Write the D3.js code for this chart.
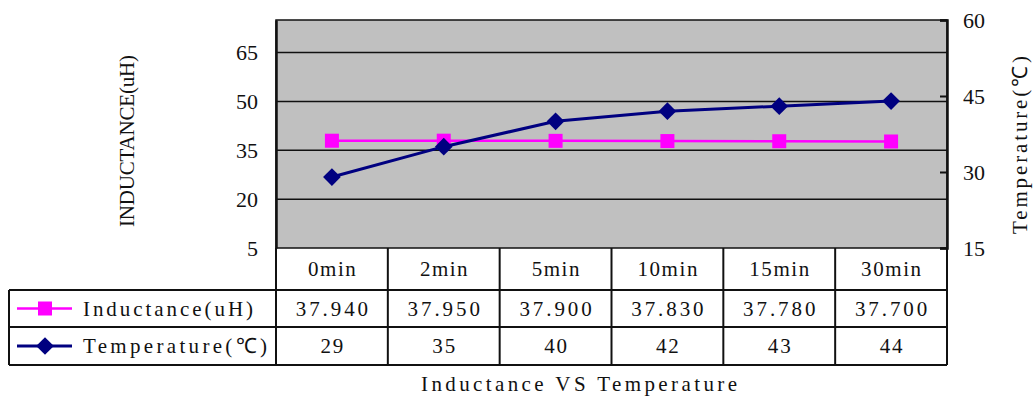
<!DOCTYPE html>
<html>
<head>
<meta charset="utf-8">
<script src="https://cdn.jsdelivr.net/npm/d3@7"></script>
<style>
  body { margin: 0; background: white; }
</style>
</head>
<body>
<div id="container"></div>
<script>
/* CONSTANTS AND GLOBALS */
const width = 1034,
  height = 400;

const plot = { left: 276, right: 947, top: 20, bottom: 248 };
const rows = [248, 290, 327, 365];   // table row edges
const tableLeft = 9;
const charW = 12.4;                  // half-width char cell, like a CJK font

/* DATA */
const categories = ["0min", "2min", "5min", "10min", "15min", "30min"];
const inductance = [37.94, 37.95, 37.90, 37.83, 37.78, 37.70];
const temperature = [29, 35, 40, 42, 43, 44];
const leftTicks = [5, 20, 35, 50, 65];
const rightTicks = [15, 30, 45, 60];
const seriesNames = ["Inductance(uH)", "Temperature(℃)"];

const serif = "'Liberation Serif', 'Times New Roman', serif";

// monospace-looking serif text: stretch spacing to a fixed cell width
function cellWidth(s) {
  let w = 0;
  for (const ch of s) w += ch.charCodeAt(0) > 255 ? charW * 2 : charW;
  return w - 2;
}

const svg = d3.select("#container")
  .append("svg")
  .attr("width", width)
  .attr("height", height)
  .style("background-color", "white");

/* SCALES */
const xScale = d3.scaleBand()
  .domain(categories)
  .range([plot.left, plot.right]);

const yLeft = d3.scaleLinear()
  .domain([5, 75])
  .range([plot.bottom, plot.top]);

const yRight = d3.scaleLinear()
  .domain([15, 60])
  .range([plot.bottom, plot.top]);

/* PLOT BACKGROUND */
svg.append("rect")
  .attr("x", plot.left)
  .attr("y", plot.top)
  .attr("width", plot.right - plot.left)
  .attr("height", plot.bottom - plot.top)
  .attr("fill", "#c0c0c0")
  .attr("stroke", "#111")
  .attr("stroke-width", 1.5);

// gridlines
svg.selectAll(".grid")
  .data(leftTicks.slice(1))
  .join("line")
  .attr("x1", plot.left)
  .attr("x2", plot.right)
  .attr("y1", d => yLeft(d))
  .attr("y2", d => yLeft(d))
  .attr("stroke", "#111")
  .attr("stroke-width", 1.5);

/* AXES */
const leftAxis = d3.axisLeft(yLeft)
  .tickValues(leftTicks)
  .tickSize(0)
  .tickPadding(18);

svg.append("g")
  .attr("transform", `translate(${plot.left}, 0)`)
  .call(leftAxis)
  .call(g => g.select(".domain").attr("stroke", "#111").attr("stroke-width", 2.5))
  .call(g => g.selectAll("text")
    .attr("font-family", serif)
    .attr("font-size", 22)
    .attr("fill", "#111"));

const rightAxis = d3.axisRight(yRight)
  .tickValues(rightTicks)
  .tickSize(-7)
  .tickPadding(16);

svg.append("g")
  .attr("transform", `translate(${plot.right}, 0)`)
  .call(rightAxis)
  .call(g => g.select(".domain").attr("stroke", "#111").attr("stroke-width", 2.5))
  .call(g => g.selectAll(".tick line").attr("stroke", "#111").attr("stroke-width", 2))
  .call(g => g.selectAll("text")
    .attr("font-family", serif)
    .attr("font-size", 22)
    .attr("fill", "#111"));

// axis titles
svg.append("text")
  .attr("transform", `translate(134, 141) rotate(-90)`)
  .attr("text-anchor", "middle")
  .attr("font-family", serif)
  .attr("font-size", 21)
  .attr("fill", "#111")
  .attr("textLength", 172)
  .attr("lengthAdjust", "spacing")
  .text("INDUCTANCE(uH)");

svg.append("text")
  .attr("transform", `translate(1027, 145) rotate(-90)`)
  .attr("text-anchor", "middle")
  .attr("font-family", serif)
  .attr("font-size", 21)
  .attr("fill", "#111")
  .attr("textLength", 178)
  .attr("lengthAdjust", "spacing")
  .text("Temperature(℃)");

/* LINES */
const cx = (d, i) => xScale(categories[i]) + xScale.bandwidth() / 2;

const lineL = d3.line()
  .x(cx)
  .y(d => yLeft(d));

const lineR = d3.line()
  .x(cx)
  .y(d => yRight(d));

svg.append("path")
  .datum(inductance)
  .attr("d", lineL)
  .attr("fill", "none")
  .attr("stroke", "#ff00ff")
  .attr("stroke-width", 2.5);

svg.selectAll(".sq")
  .data(inductance)
  .join("rect")
  .attr("class", "sq")
  .attr("x", (d, i) => cx(d, i) - 7)
  .attr("y", d => yLeft(d) - 7)
  .attr("width", 14)
  .attr("height", 14)
  .attr("fill", "#ff00ff");

svg.append("path")
  .datum(temperature)
  .attr("d", lineR)
  .attr("fill", "none")
  .attr("stroke", "#000080")
  .attr("stroke-width", 3);

const diamond = d3.symbol().type(d3.symbolDiamond2).size(200);

svg.selectAll(".dia")
  .data(temperature)
  .join("path")
  .attr("class", "dia")
  .attr("transform", (d, i) => `translate(${cx(d, i)}, ${yRight(d)})`)
  .attr("d", diamond)
  .attr("fill", "#000080");

/* DATA TABLE */
const table = svg.append("g");

[1, 2, 3].forEach(r => {
  table.append("line")
    .attr("x1", tableLeft).attr("x2", plot.right)
    .attr("y1", rows[r]).attr("y2", rows[r]);
});
table.append("line")
  .attr("x1", tableLeft).attr("x2", tableLeft)
  .attr("y1", rows[1]).attr("y2", rows[3]);

// vertical lines between categories
table.selectAll(".vline")
  .data(categories.concat(["end"]))
  .join("line")
  .attr("x1", (d, i) => i < categories.length ? xScale(d) : plot.right)
  .attr("x2", (d, i) => i < categories.length ? xScale(d) : plot.right)
  .attr("y1", rows[0])
  .attr("y2", rows[3]);

table.selectAll("line")
  .attr("stroke", "#111")
  .attr("stroke-width", 2);

function cellText(sel, y) {
  sel.attr("x", cx)
    .attr("y", y)
    .attr("text-anchor", "middle")
    .attr("font-family", serif)
    .attr("font-size", 21)
    .attr("fill", "#111")
    .attr("lengthAdjust", "spacing");
}

table.selectAll(".cat")
  .data(categories)
  .join("text")
  .call(cellText, (rows[0] + rows[1]) / 2 + 7)
  .attr("textLength", d => cellWidth(d))
  .text(d => d);

table.selectAll(".ind")
  .data(inductance)
  .join("text")
  .call(cellText, (rows[1] + rows[2]) / 2 + 7)
  .attr("textLength", d => cellWidth(d3.format(".3f")(d)))
  .text(d => d3.format(".3f")(d));

table.selectAll(".tmp")
  .data(temperature)
  .join("text")
  .call(cellText, (rows[2] + rows[3]) / 2 + 7)
  .attr("textLength", d => cellWidth(String(d)))
  .text(d => d);

// legend keys inside the table
const legendColors = ["#ff00ff", "#000080"];
seriesNames.forEach((name, i) => {
  const cy = (rows[i + 1] + rows[i + 2]) / 2;
  table.append("line")
    .attr("x1", 17).attr("x2", 72)
    .attr("y1", cy).attr("y2", cy)
    .attr("stroke", legendColors[i])
    .attr("stroke-width", i === 0 ? 2.5 : 3);
  if (i === 0) {
    table.append("rect")
      .attr("x", 38).attr("y", cy - 7)
      .attr("width", 14).attr("height", 14)
      .attr("fill", legendColors[i]);
  } else {
    table.append("path")
      .attr("transform", `translate(45, ${cy})`)
      .attr("d", diamond)
      .attr("fill", legendColors[i]);
  }
  table.append("text")
    .attr("x", 83)
    .attr("y", cy + 7)
    .attr("font-family", serif)
    .attr("font-size", 21)
    .attr("fill", "#111")
    .attr("textLength", i === 0 ? 170 : 184)
    .attr("lengthAdjust", "spacing")
    .text(name);
});

/* TITLE */
svg.append("text")
  .attr("x", 579)
  .attr("y", 391)
  .attr("text-anchor", "middle")
  .attr("font-family", serif)
  .attr("font-size", 21)
  .attr("fill", "#111")
  .attr("textLength", 316)
  .attr("lengthAdjust", "spacing")
  .text("Inductance VS Temperature");
</script>
</body>
</html>
